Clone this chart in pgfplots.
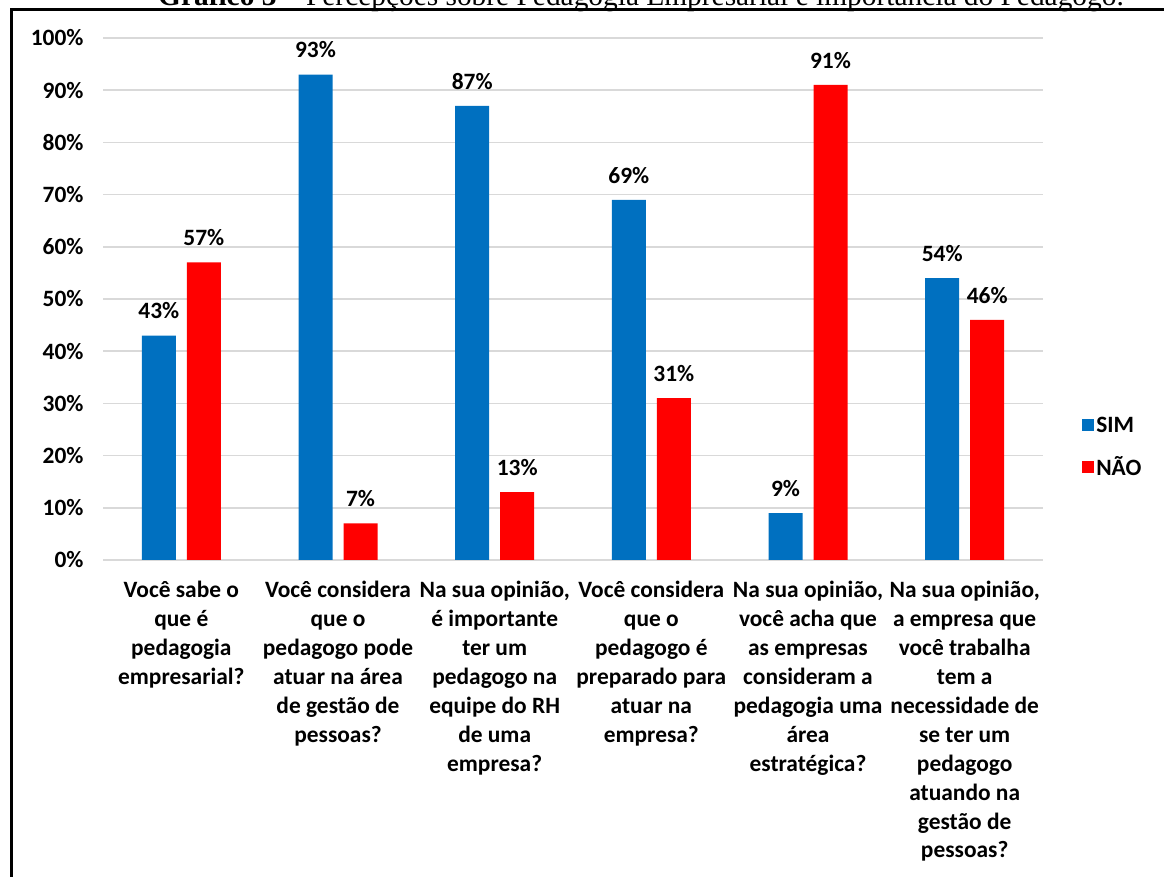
\documentclass[border=0pt]{standalone}
\usepackage{pgfplots}
\pgfplotsset{compat=1.18}
\usepackage{fontspec}
\setmainfont{Carlito}
\newfontfamily\titlefont{Liberation Serif}
\definecolor{simblue}{HTML}{0070C0}
\definecolor{naored}{HTML}{FF0000}
\definecolor{gridgray}{HTML}{D9D9D9}
\begin{document}
\begin{tikzpicture}[x=1bp,y=1bp]
\begin{axis}[
  at={(103bp,317bp)}, anchor=south west,
  scale only axis, width=940bp, height=522bp,
  xmin=-0.5, xmax=5.5, ymin=0, ymax=100,
  ybar=11bp, bar width=34bp,
  xtick={0,...,5},
  xticklabels={
    {Você sabe o\\que é\\pedagogia\\empresarial?},
    {Você considera\\que o\\pedagogo pode\\atuar na área\\de gestão de\\pessoas?},
    {Na sua opinião,\\é importante\\ter um\\pedagogo na\\equipe do RH\\de uma\\empresa?},
    {Você considera\\que o\\pedagogo é\\preparado para\\atuar na\\empresa?},
    {Na sua opinião,\\você acha que\\as empresas\\consideram a\\pedagogia uma\\área\\estratégica?},
    {Na sua opinião,\\a empresa que\\você trabalha\\tem a\\necessidade de\\se ter um\\pedagogo\\atuando na\\gestão de\\pessoas?}},
  ytick={0,10,...,100},
  yticklabel={\pgfmathprintnumber[assume math mode=true]{\tick}\%},
  ymajorgrids, grid style={gridgray, line width=1.5bp},
  axis line style={draw=none},
  major tick length=0pt,
  tick label style={font=\fontsize{23.5}{29}\selectfont\bfseries},
  xticklabel style={align=center, anchor=north, yshift=-18bp},
  yticklabel style={anchor=east, xshift=-16bp},
  nodes near coords={\pgfmathprintnumber[assume math mode=true]{\pgfplotspointmeta}\%},
  every node near coord/.append style={font=\fontsize{23.5}{29}\selectfont\bfseries, text=black, yshift=13bp},
  legend style={at={(1.0384,0.216)}, anchor=west, draw=none, fill=none,
    font=\fontsize{23.5}{29}\selectfont\bfseries, row sep=19bp, legend cell align=left},
  legend image code/.code={\fill[#1] (-4bp,-6bp) rectangle (8bp,6bp);},
]
\addplot[fill=simblue, draw=none] coordinates {(0,43) (1,93) (2,87) (3,69) (4,9) (5,54)};
\addplot[fill=naored, draw=none] coordinates {(0,57) (1,7) (2,13) (3,31) (4,91) (5,46)};
\legend{SIM, NÃO}
\end{axis}
\node[anchor=base, font=\titlefont\fontsize{29.5}{33}\selectfont] at (641bp,871bp)
  {\textbf{Gráfico 3 –} Percepções sobre Pedagogia Empresarial e importância do Pedagogo.};
\fill[black] (9.5bp,0bp) rectangle (12.5bp,868.5bp);
\fill[black] (9.5bp,865.5bp) rectangle (1164bp,868.5bp);
\pgfresetboundingbox
\useasboundingbox (0bp,0bp) rectangle (1164bp,877bp);
\end{tikzpicture}
\end{document}
